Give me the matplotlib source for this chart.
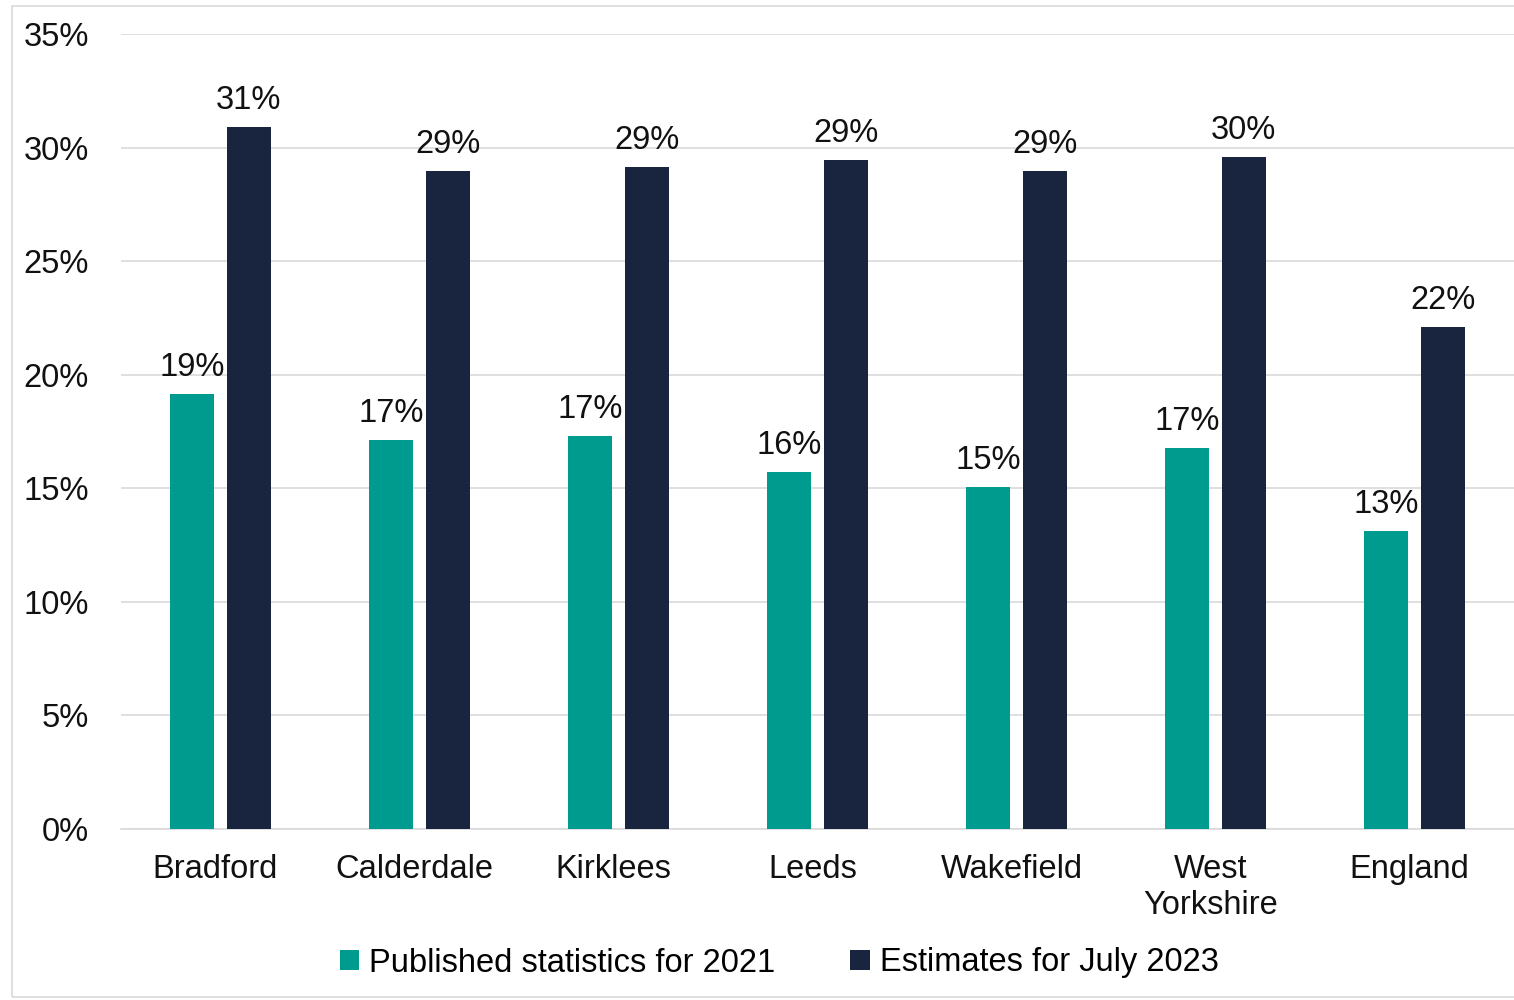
import matplotlib
matplotlib.use("Agg")
from matplotlib import pyplot as plt
from matplotlib.patches import Rectangle
import numpy as np

# Data
areas = ["Bradford", "Calderdale", "Kirklees", "Leeds", "Wakefield", "West\nYorkshire", "England"]
published_2021 = [19.15, 17.13, 17.3, 15.72, 15.06, 16.78, 13.12]
estimates_2023 = [30.9, 28.97, 29.15, 29.46, 28.97, 29.59, 22.1]

teal = "#009B8F"
navy = "#19243F"
grid_col = "#D9D9D9"
fs = 23.5

plt.rcParams["font.family"] = ["Liberation Sans", "DejaVu Sans"]
plt.rcParams["font.size"] = fs

fig = plt.figure(figsize=(15.14, 10), dpi=100)
ax = fig.add_axes([121 / 1514, 171 / 1000, 1 - 121 / 1514, (829 - 34) / 1000])

x = np.arange(len(areas))
width = 0.221
offset = 0.141

b1 = ax.bar(x - offset, published_2021, width, color=teal, label="Published statistics for 2021", zorder=3)
b2 = ax.bar(x + offset, estimates_2023, width, color=navy, label="Estimates for July 2023", zorder=3)

# Value labels above bars
for bars in (b1, b2):
    for rect in bars:
        h = rect.get_height()
        ax.annotate(f"{round(h):.0f}%", (rect.get_x() + rect.get_width() / 2, h),
                    xytext=(0, 8), textcoords="offset points",
                    ha="center", va="bottom", fontsize=fs, color="#111111")

ax.set_ylim(0, 35)
ax.set_xlim(-0.5, len(areas) - 0.5)
ax.set_yticks(np.arange(0, 36, 5))
ax.set_yticklabels([f"{v}%" for v in range(0, 36, 5)])
ax.set_xticks(x - 0.025)
ax.set_xticklabels(areas, linespacing=1.2)

ax.yaxis.grid(True, color=grid_col, linewidth=1.2, zorder=0)
ax.tick_params(axis="y", length=0, pad=23, labelcolor="#111111")
ax.tick_params(axis="x", length=0, pad=18, labelcolor="#111111")
for s in ["top", "right", "left"]:
    ax.spines[s].set_visible(False)
ax.spines["bottom"].set_color(grid_col)
ax.spines["bottom"].set_linewidth(1.2)

fig.legend(handles=[b1, b2], loc="center", bbox_to_anchor=(779 / 1514, 37 / 1000), ncol=2,
           frameon=False, fontsize=fs, handlelength=0.6, handleheight=0.6,
           handletextpad=0.3, columnspacing=2.3)

# thin outer frame like the source image
fig.patches.append(Rectangle((12 / 1514, 3 / 1000), 1.0, 991 / 1000, transform=fig.transFigure,
                             fill=False, edgecolor=grid_col, linewidth=1.2))

plt.savefig("out.png", dpi=100)
